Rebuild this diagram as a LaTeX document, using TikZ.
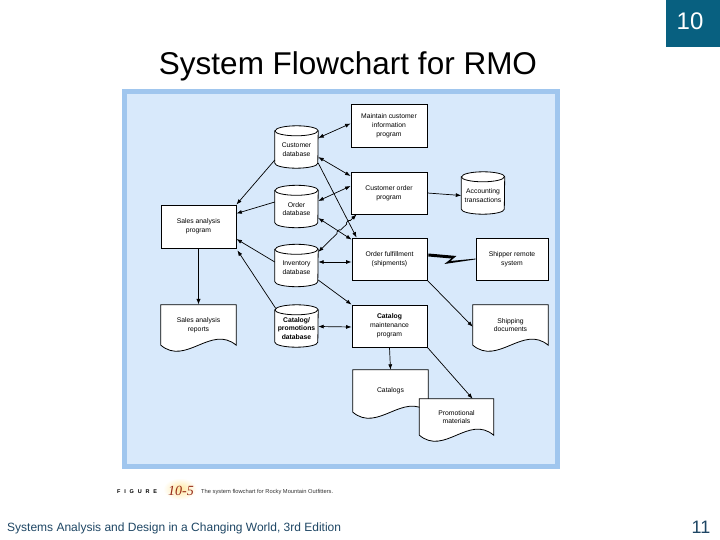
\documentclass[tikz,border=0pt]{standalone}
\usepackage{fontspec}
\setmainfont{Liberation Sans}
\newfontfamily\serifit{Liberation Serif}
\usetikzlibrary{arrows.meta,calc}
\pgfdeclarelayer{bgzero}
\pgfdeclarelayer{bgone}
\pgfsetlayers{bgzero,bgone,main}
\definecolor{panelborder}{RGB}{160,198,238}
\definecolor{panelfill}{RGB}{216,233,251}
\definecolor{pagebox}{RGB}{8,96,128}
\definecolor{footer}{RGB}{30,70,100}
\definecolor{figred}{RGB}{150,40,20}
\definecolor{glow}{RGB}{255,232,160}
\begin{document}
\begin{tikzpicture}[x=1pt,y=-1pt,
  lbl/.style={font=\fontsize{6.8}{8.8}\selectfont,align=center},
  box/.style={lbl,draw,fill=white,line width=0.8pt,minimum width=75pt,minimum height=42pt,inner sep=1pt},
  cylnode/.style={lbl,minimum width=43pt,minimum height=37pt,inner sep=1pt},
  docnode/.style={lbl,minimum width=75pt,minimum height=40pt,inner sep=1pt},
  shapeline/.style={line width=0.8pt},
  conn/.style={line width=0.7pt,-{Latex[length=5.5pt,width=4pt]}},
  dconn/.style={line width=0.7pt,{Latex[length=5.5pt,width=4pt]}-{Latex[length=5.5pt,width=4pt]}},
]
\useasboundingbox (0,0) rectangle (720,540);

% header / footer
\fill[pagebox] (666,0) rectangle (720,47);
\node[anchor=base,inner sep=0,text=white,font=\fontsize{24}{26}\selectfont] (pnum) at (690,30) {10};
\node[anchor=base,inner sep=0,font=\fontsize{31.5}{36}\selectfont] (title) at (348,74.5) {System Flowchart for RMO};
\node[anchor=base west,inner sep=0,text=footer,font=\fontsize{12}{14}\selectfont] (foot) at (7,531) {Systems Analysis and Design in a Changing World, 3rd Edition};
\node[anchor=base,inner sep=0,text=footer,font=\fontsize{18}{20}\selectfont] (pg) at (701,533) {11};

% caption
\shade[inner color=glow,outer color=white] (180,489) ellipse[x radius=17pt,y radius=11pt];
\node[anchor=base west,inner sep=0,font=\bfseries\fontsize{5.5}{6}\selectfont] (figword) at (117,493) {F\hspace{3.8pt}I\hspace{3.8pt}G\hspace{3.8pt}U\hspace{3.8pt}R\hspace{3.8pt}E};
\node[anchor=base west,inner sep=0,text=figred,font=\serifit\itshape\fontsize{14}{16}\selectfont] (fignum) at (168,495) {10-5};
\node[anchor=base west,inner sep=0,text=black!80,font=\fontsize{5.75}{7}\selectfont] (figcap) at (201,493) {The system flowchart for Rocky Mountain Outfitters.};

% panel
\begin{pgfonlayer}{bgzero}
\fill[panelborder] (122,89) rectangle (560,469);
\fill[panelfill] (127,94) rectangle (555,464);
\end{pgfonlayer}

% process boxes
\node[box,minimum width=76pt,minimum height=43pt] (maint) at (389,125.5) {Maintain customer\\information\\program};
\node[box,minimum width=76pt] (cord) at (389,193) {Customer order\\program};
\node[box] (ful) at (389.5,259) {Order fulfillment\\(shipments)};
\node[box,minimum width=72pt] (ship) at (512,259) {Shipper remote\\system};
\node[box] (cmp) at (389.5,326) {\textbf{Catalog}\\maintenance\\program};
\node[box,minimum height=43pt] (sap) at (198.5,226.5) {Sales analysis\\program};

% databases
\node[cylnode] (custdb) at (296.5,149.5) {Customer\\database};
\node[cylnode] (odb) at (296.5,209) {Order\\database};
\node[cylnode] (idb) at (296.5,268) {Inventory\\database};
\node[cylnode] (cdb) at (296.5,328.5) {\textbf{Catalog/}\\\textbf{promotions}\\\textbf{database}};
\node[cylnode] (acct) at (483,195.5) {Accounting\\transactions};

% documents
\node[docnode] (sar) at (198.5,325) {Sales analysis\\reports};
\node[docnode] (sdoc) at (510.5,325) {Shipping\\documents};
\node[docnode,minimum height=42pt] (cat) at (390.5,391) {Catalogs};
\node[docnode,minimum height=36pt,minimum width=74pt] (promo) at (456.5,417) {Promotional\\materials};

\begin{pgfonlayer}{bgone}
\foreach \n in {custdb,odb,idb,cdb,acct}{
  \filldraw[shapeline,fill=white] (\n.north west) -- ([yshift=5pt]\n.south west)
     arc[start angle=180,end angle=360,x radius=21.5pt,y radius=5pt]
     -- (\n.north east) arc[start angle=0,end angle=180,x radius=21.5pt,y radius=5pt] -- cycle;
  \draw[shapeline] (\n.north west) arc[start angle=180,end angle=360,x radius=21.5pt,y radius=5pt];
}
\foreach \n in {sar,sdoc,cat,promo}{
  \filldraw[shapeline,fill=white] (\n.north west) -- (\n.north east) -- (\n.south east)
     .. controls ($(\n.south east)+(-25,-21)$) and ($(\n.south west)+(25,21)$) .. (\n.south west) -- cycle;
}
\end{pgfonlayer}

% connectors
\draw[dconn] ($(custdb.east)+(0,-11.5)$) -- ($(maint.west)+(0,-2)$);
\draw[dconn] ($(custdb.east)+(0,7.5)$) -- ($(cord.west)+(0,-17)$);
\draw[conn] ($(custdb.east)+(0,13.5)$) -- ($(ful.north west)+(5,0)$);
\draw[conn] ($(custdb.west)+(0,10.5)$) -- (sap.north east);
\draw[conn] ($(odb.west)+(0,-7)$) -- ($(sap.east)+(0,-13)$);
\draw[dconn] ($(odb.east)+(0,-8)$) -- ($(cord.west)+(0,-7)$);
\draw[dconn] ($(odb.east)+(0,9)$) -- ($(ful.north west)+(0,2)$);
\coordinate (hopa) at ($(idb.east)+(0,-16)$);
\coordinate (hopb) at ($(cord.south west)+(6,0)$);
\draw[dconn] (hopa) -- ($(hopa)!0.492!(hopb)$) to[bend left=90] ($(hopa)!0.584!(hopb)$)
   -- ($(hopa)!0.742!(hopb)$) to[bend left=90] ($(hopa)!0.834!(hopb)$) -- (hopb);
\draw[dconn] ($(idb.east)+(0,-6)$) -- ($(ful.west)+(0,3)$);
\draw[conn] ($(idb.west)+(0,-6)$) -- ($(sap.east)+(0,12.5)$);
\draw[conn] ($(idb.east)+(0,12)$) -- (cmp.north west);
\draw[conn] ($(cdb.west)+(1,-20)$) -- ($(sap.south east)+(1,2)$);
\draw[dconn] ($(cdb.east)+(0,-2)$) -- ($(cmp.west)+(0,1)$);
\draw[line width=1.6pt,-{Latex[length=6pt,width=4.5pt]}] (sap.south) -- (sar.north);
\draw[conn] (cord.east) -- (acct.west);
\fill ($(ful.east)+(1,-5.5)$) -- ($(ful.east)+(29,-3)$) -- ($(ful.east)+(23,2)$)
   -- ($(ship.west)+(0,-0.4)$) -- ($(ship.west)+(0,0.4)$) -- ($(ful.east)+(17,5)$)
   -- ($(ful.east)+(24,-0.5)$) -- ($(ful.east)+(1,-2.5)$) -- cycle;
\draw[conn] (ful.south east) -- ($(sdoc.north west)+(0,22)$);
\draw[conn] (cmp.south) -- (cat.north);
\draw[conn] (cmp.south east) -- ($(promo.north east)+(-21,0)$);
\end{tikzpicture}
\end{document}
